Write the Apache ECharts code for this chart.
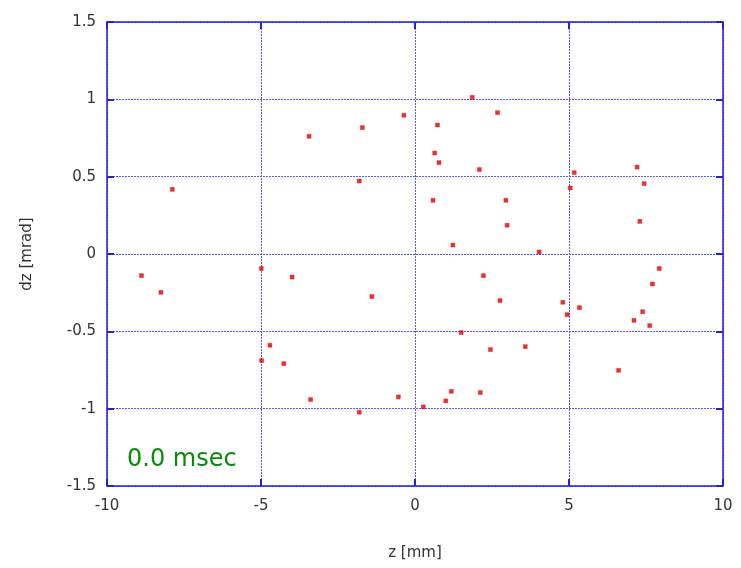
<!DOCTYPE html>
<html>
<head>
<meta charset="utf-8">
<script src="https://cdn.jsdelivr.net/npm/echarts@6/dist/echarts.min.js"></script>
<style>
  html, body { margin: 0; padding: 0; background: #fff; }
  #chart { width: 741px; height: 568px; }
</style>
</head>
<body>
<div id="chart"></div>
<script>
// Beam position offset z [mm] and angle dz [mrad] for each sampled bunch
const zValues = [
  -3.44, -1.71, -0.36, -1.81, -7.88,
  1.86, 2.68, 0.73, 0.64, 0.78, 2.09, 7.21, 7.44, 5.17, 5.04, 0.585, 2.95, 2.99, 1.23, 7.30, 4.03,
  -8.88, -8.25, -4.99, -3.99, -1.40, -4.71, -4.98, -4.26, -3.39, -0.54, -1.81,
  2.22, 2.76, 4.80, 4.94, 5.34, 7.93, 7.71, 7.39, 7.11, 7.62, 1.50, 2.45, 3.58, 6.61, 1.18, 2.12, 1.00, 0.27
];
const dzValues = [
  0.761, 0.817, 0.897, 0.472, 0.418,
  1.013, 0.914, 0.834, 0.653, 0.591, 0.546, 0.562, 0.455, 0.526, 0.427, 0.347, 0.347, 0.186, 0.058, 0.211, 0.013,
  -0.140, -0.248, -0.094, -0.149, -0.275, -0.590, -0.689, -0.709, -0.941, -0.924, -1.023,
  -0.140, -0.301, -0.312, -0.392, -0.347, -0.094, -0.194, -0.373, -0.429, -0.463, -0.508, -0.618, -0.599, -0.752, -0.888, -0.896, -0.950, -0.989
];
const timeLabel = '0.0 msec';

const points = zValues.map((z, i) => [z, dzValues[i]]);

const axisBlue = '#2222dd';
const gridBlue = '#5858ff';
const labelFont = { color: '#333', fontSize: 15, fontFamily: 'DejaVu Sans' };

function xAxisCfg(primary) {
  return {
    type: 'value', min: -10, max: 10, interval: 5,
    position: primary ? 'bottom' : 'top',
    name: primary ? 'z [mm]' : '',
    nameLocation: 'middle', nameGap: 60,
    nameTextStyle: labelFont,
    axisLine: { show: true, onZero: false, lineStyle: { color: axisBlue, width: 1.5 } },
    axisTick: { show: true, inside: true, length: 7, lineStyle: { color: axisBlue, width: 2 } },
    axisLabel: primary ? Object.assign({ margin: 13 }, labelFont) : { show: false },
    splitLine: primary ? { show: true, lineStyle: { color: gridBlue, type: [2, 1], width: 1 } } : { show: false }
  };
}
function yAxisCfg(primary) {
  return {
    type: 'value', min: -1.5, max: 1.5, interval: 0.5,
    position: primary ? 'left' : 'right',
    name: primary ? 'dz [mrad]' : '',
    nameLocation: 'middle', nameGap: 72, nameRotate: 90,
    nameTextStyle: labelFont,
    axisLine: { show: true, onZero: false, lineStyle: { color: axisBlue, width: 1.5 } },
    axisTick: { show: true, inside: true, length: 7, lineStyle: { color: axisBlue, width: 2 } },
    axisLabel: primary ? Object.assign({ margin: 11 }, labelFont) : { show: false },
    splitLine: primary ? { show: true, lineStyle: { color: gridBlue, type: [2, 1], width: 1 } } : { show: false }
  };
}

const chart = echarts.init(document.getElementById('chart'));
chart.setOption({
  animation: false,
  backgroundColor: '#fff',
  grid: { left: 107, right: 18, top: 22, bottom: 82 },
  xAxis: [xAxisCfg(true), xAxisCfg(false)],
  yAxis: [yAxisCfg(true), yAxisCfg(false)],
  series: [{
    type: 'scatter',
    data: points,
    symbol: 'rect',
    symbolSize: 4,
    itemStyle: { color: '#e00000', borderColor: 'rgba(230,0,0,0.45)', borderWidth: 1 }
  }],
  graphic: [{
    type: 'text',
    left: 127, top: 448,
    style: { text: timeLabel, fill: '#0a8a0a', font: '24px DejaVu Sans' }
  }]
});
</script>
</body>
</html>
